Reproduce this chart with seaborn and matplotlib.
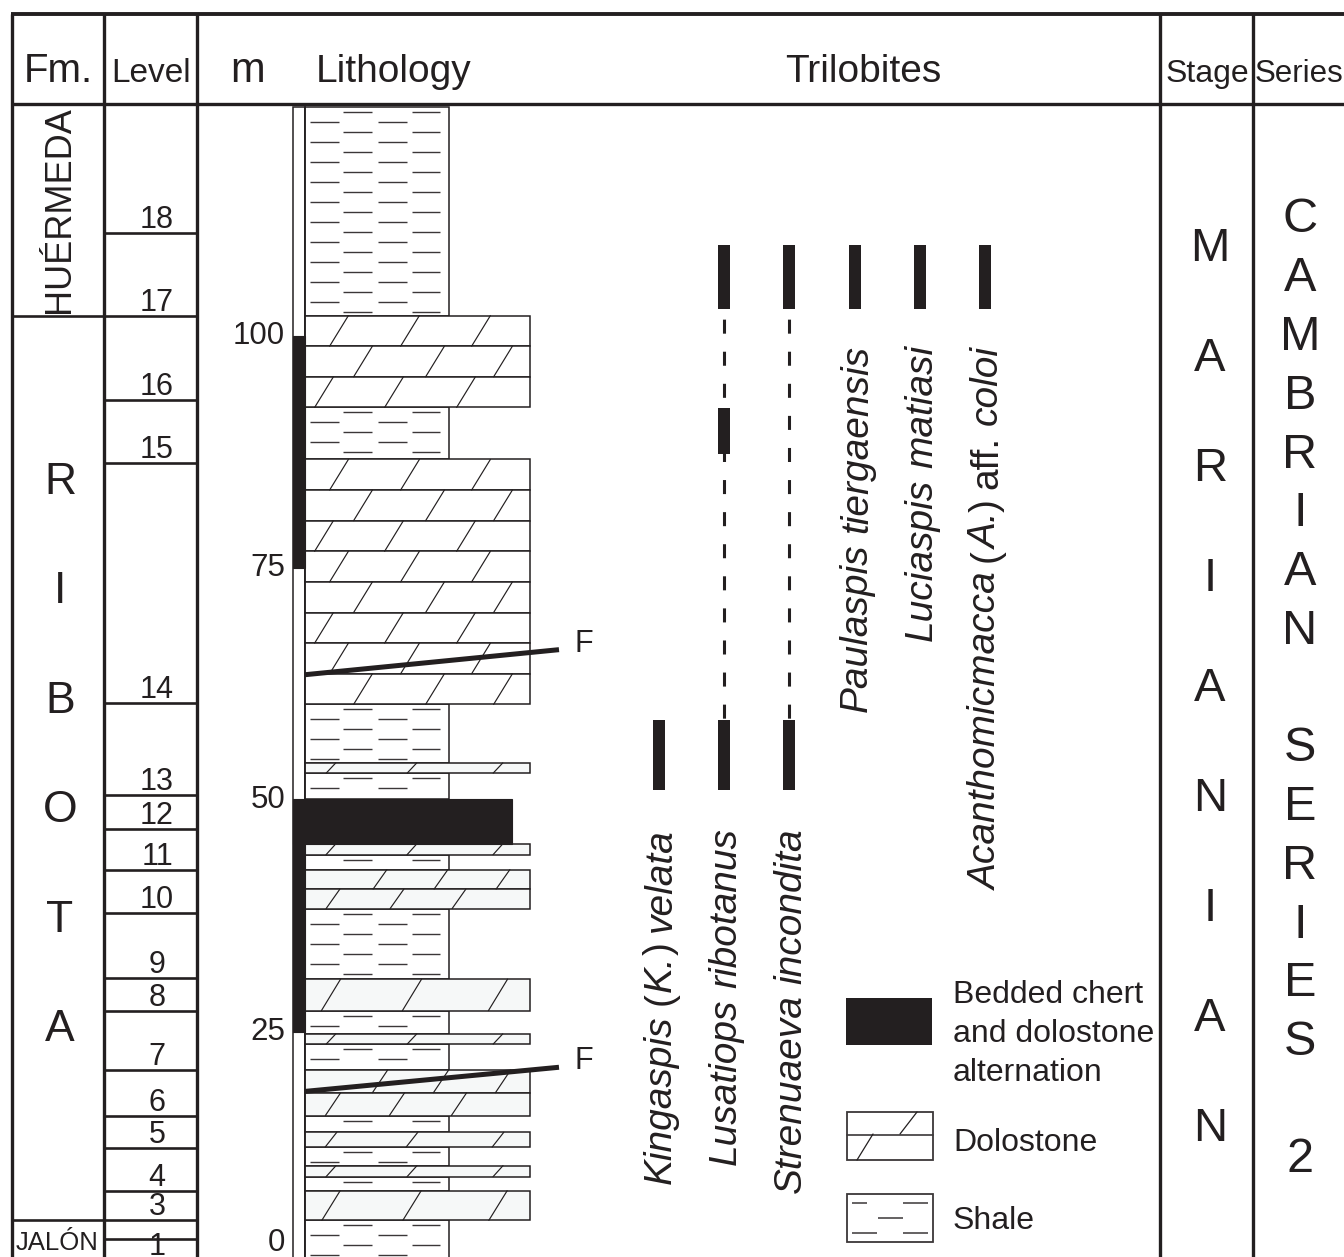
import matplotlib
matplotlib.use("Agg")
import matplotlib.pyplot as plt
from matplotlib.patches import Rectangle
from matplotlib.font_manager import FontProperties
import seaborn as sns

# ---------------------------------------------------------------- data (metres)
depth_ticks = [0, 25, 50, 75, 100]

level_names = ["1", "2", "3", "4", "5", "6", "7", "8", "9", "10",
               "11", "12", "13", "14", "15", "16", "17", "18"]
level_labelled = [True, False] + [True] * 16
level_base = [-0.2, 2.7, 4.7, 7.9, 12.5, 16.0, 20.9, 27.3, 30.8, 37.8,
              42.5, 46.9, 50.5, 60.4, 86.3, 93.1, 102.2, 111.1]
section_top = 125.1
section_base = -1.0

fm_names = ["JALÓN", "RIBOTA", "HUÉRMEDA"]
fm_base = [-0.2, 4.7, 102.2]

litho_kind = ["shale", "dolostone", "shale", "dolostone", "shale", "dolostone",
              "shale", "chert", "dolostone", "shale", "dolostone", "shale",
              "dolostone", "shale", "dolostone", "shale", "dolostone", "shale",
              "dolostone", "shale", "dolostone", "shale", "dolostone", "shale"]
litho_top = [124.7, 102.2, 92.3, 86.7, 60.3, 54.0, 52.9, 50.1, 45.3, 44.1,
             42.5, 38.3, 30.7, 27.3, 24.8, 23.7, 20.9, 16.0, 14.2, 12.6,
             10.6, 9.4, 7.9, 4.7]
litho_beds = [1, 3, 1, 8, 1, 1, 1, 1, 1, 1, 2, 1, 1, 1, 1, 1, 2, 1, 1, 1, 1, 1, 1, 1]

chert_top = [100.0, 50.0]
chert_base = [75.0, 25.0]

fault_left = [63.5, 18.6]
fault_right = [66.2, 21.2]

species = ["*Kingaspis* (*K.*) *velata*", "*Lusatiops ribotanus*",
           "*Strenuaeva incondita*", "*Paulaspis tiergaensis*",
           "*Luciaspis matiasi*", "*Acanthomicmacca* (*A.*) aff. *coloi*"]
range_species = [0, 1, 2, 1, 2, 3, 4, 5, 1]
range_base = [51.1, 51.1, 51.1, 102.9, 102.9, 102.9, 102.9, 102.9, 87.3]
range_top = [58.6, 58.6, 58.6, 109.8, 109.8, 109.8, 109.8, 109.8, 92.2]
dashed_species = [1, 2]
dashed_base = [58.6, 58.6]
dashed_top = [102.9, 102.9]

stage_name = "MARIANIAN"
series_name = "CAMBRIAN SERIES 2"
header_labels = ["Fm.", "Level", "m", "Lithology", "Trilobites", "Stage", "Series"]
legend_labels = ["Bedded chert", "and dolostone", "alternation", "Dolostone", "Shale"]

# ---------------------------------------------------------------- style
sns.set_theme(style="white")
plt.rcParams["font.family"] = ["Liberation Sans", "DejaVu Sans"]
plt.rcParams["lines.scale_dashes"] = False

INK = "#231f20"
FIG_W, FIG_H = 1344, 1257
PPM = 9.28          # pixels per metre on the page
ZERO_PX = 1264      # pixel row of the 0 m level


def ym(px):
    return (ZERO_PX - px) / PPM


def py(m):
    return ZERO_PX - m * PPM


fig = plt.figure(figsize=(FIG_W / 100, FIG_H / 100), dpi=100)
ax = fig.add_axes([0, 0, 1, 1])
ax.set_xlim(0, FIG_W)
ax.set_ylim(ym(FIG_H), ym(0))
ax.axis("off")

# ---------------------------------------------------------------- table frame
COL_X = [12, 104, 197, 1160, 1253]
TOP_PX, HEAD_PX = 14, 104
for x in COL_X:
    ax.plot([x, x], [ym(TOP_PX), ym(FIG_H)], color=INK, lw=2.4,
            solid_capstyle="butt", zorder=10)
ax.plot([COL_X[0] - 1.5, FIG_W], [ym(TOP_PX)] * 2, color=INK, lw=2.8,
        solid_capstyle="butt", zorder=10)
ax.plot([COL_X[0], FIG_W], [ym(HEAD_PX)] * 2, color=INK, lw=2.4,
        solid_capstyle="butt", zorder=10)

head_x = [58, 151, 248, 316, 863, 1207, 1299]
head_size = [29, 24, 30, 28, 28, 23, 22.5]
head_ha = ["center", "center", "center", "left", "center", "center", "center"]
for lab, x, s, ha in zip(header_labels, head_x, head_size, head_ha):
    ax.text(x, ym(82), lab, fontsize=s, ha=ha, va="baseline", color=INK)

# ---------------------------------------------------------------- formations
fm_top = fm_base[1:] + [section_top]
for b in fm_base[1:]:
    ax.plot([COL_X[0], COL_X[1]], [b, b], color=INK, lw=1.9, solid_capstyle="butt")
ax.text(57, (fm_base[0] + fm_top[0]) / 2, fm_names[0], fontsize=18.5,
        ha="center", va="center", color=INK)
mid_px = (py(fm_base[1]) + py(fm_top[1])) / 2 - 12
letters = fm_names[1]
for i, ch in enumerate(letters):
    ax.text(60, ym(mid_px + (i - (len(letters) - 1) / 2) * 109.5), ch,
            fontsize=32, ha="center", va="center", color=INK)
ax.text(59, (fm_base[2] + fm_top[2]) / 2, fm_names[2], fontsize=26, rotation=90,
        ha="center", va="center", color=INK)

# ---------------------------------------------------------------- levels
for name, show, b in zip(level_names, level_labelled, level_base):
    ax.plot([COL_X[1], COL_X[2]], [b, b], color=INK, lw=1.9, solid_capstyle="butt")
    if show:
        # keep the lowest label inside the page
        yb = max(b + 5 / PPM, ym(FIG_H - 2))
        ax.text(157, yb, name, fontsize=22, ha="center",
                va="baseline", color=INK)

# ---------------------------------------------------------------- depth scale
for t in depth_ticks:
    ax.text(285, max(t, 2.3), str(t), fontsize=22.5, ha="right",
            va="center", color=INK)

# ---------------------------------------------------------------- lithology
STRIP_X0, LITHO_X0 = 293, 305
RIGHT = {"shale": 449, "dolostone": 530, "chert": 512}
SLASH_ROWS = {3: [[339, 410, 481], [363, 435, 503], [324, 394, 466]],
              2: [[380, 441, 503], [333, 397, 459]],
              1: [[331, 412, 498]]}
DASH_SETS = [[(343, 372), (412, 440)], [(310, 339), (378, 407)]]

ax.add_patch(Rectangle((STRIP_X0, section_base), LITHO_X0 - STRIP_X0,
                       litho_top[0] - section_base, fc="white", ec=INK,
                       lw=1.1, zorder=2))
for t, b in zip(chert_top, chert_base):
    ax.add_patch(Rectangle((STRIP_X0, b), LITHO_X0 - STRIP_X0, t - b,
                           fc=INK, ec=INK, lw=0.8, zorder=4))

litho_base = litho_top[1:] + [section_base]
for kind, top, base, nsub in zip(litho_kind, litho_top, litho_base, litho_beds):
    if kind == "shale":
        ax.add_patch(Rectangle((LITHO_X0, base), RIGHT[kind] - LITHO_X0, top - base,
                               fc="white", ec=INK, lw=1.1, zorder=2))
        ypx, k = py(top) + 5, 0
        while ypx < py(base) - 3:
            for a, bb in DASH_SETS[k % 2]:
                ax.plot([a, bb], [ym(ypx)] * 2, color="#3b3738", lw=1.0,
                        solid_capstyle="butt", zorder=2.2)
            ypx += 10
            k += 1
    elif kind == "dolostone":
        fc = "#f6f8f8" if top < 60 else "white"
        h = (top - base) / nsub
        rows = SLASH_ROWS[min(nsub, 3)]
        hp = h * PPM
        dx = 5 + 0.45 * hp
        for j in range(nsub):
            tt = top - j * h
            bb = tt - h
            ax.add_patch(Rectangle((LITHO_X0, bb), RIGHT[kind] - LITHO_X0, h,
                                   fc=fc, ec=INK, lw=1.1, zorder=3))
            for c in rows[j % len(rows)]:
                ax.plot([c - dx / 2, c + dx / 2], [bb, tt], color=INK, lw=0.85,
                        zorder=3.2)
    else:
        ax.add_patch(Rectangle((STRIP_X0, base), RIGHT[kind] - STRIP_X0, top - base,
                               fc=INK, ec=INK, lw=0.8, zorder=4))

ax.plot([LITHO_X0, LITHO_X0], [section_base, litho_top[0]], color=INK, lw=1.1, zorder=3.5)

# faults
for l, r in zip(fault_left, fault_right):
    ax.plot([LITHO_X0, 559], [l, r], color=INK, lw=3.6, solid_capstyle="butt", zorder=6)
    ax.text(584, r + 6 / PPM, "F", fontsize=22, ha="center", va="center", color=INK)

# ---------------------------------------------------------------- trilobite ranges
SP_X = [659, 724, 789, 855, 920, 985]
ax.bar([SP_X[i] for i in range_species],
       [t - b for t, b in zip(range_top, range_base)],
       bottom=range_base, width=12, color=INK, edgecolor="none", zorder=5)
for i, b, t in zip(dashed_species, dashed_base, dashed_top):
    ax.plot([SP_X[i], SP_X[i]], [t, b], color=INK, lw=2.2,
            linestyle=(15.8, (10.1, 13.0)), zorder=4.5)

renderer = fig.canvas.get_renderer()


def text_w(s, italic, size):
    fp = FontProperties(family=plt.rcParams["font.family"], size=size,
                        style="italic" if italic else "normal")
    w1 = renderer.get_text_width_height_descent("|" + s + "|", fp, ismath=False)[0]
    w0 = renderer.get_text_width_height_descent("||", fp, ismath=False)[0]
    return w1 - w0


def rich_vertical(x_base, top_px, markup, size):
    toks = []
    for n, part in enumerate(markup.split("*")):
        italic = n % 2 == 1
        words = part.split(" ")
        for k, w in enumerate(words):
            if k > 0:
                toks.append((" ", False))
            if w:
                toks.append((w, italic))
    widths = [text_w(s, it, size) for s, it in toks]
    y = top_px + sum(widths)
    for (s, it), w in zip(toks, widths):
        if s.strip():
            ax.text(x_base, ym(y), s, rotation=90, rotation_mode="anchor",
                    ha="left", va="baseline", fontsize=size,
                    style="italic" if it else "normal", color=INK)
        y -= w


label_top = [828, 828, 828, 345, 345, 345]
for name, x, tp in zip(species, SP_X, label_top):
    rich_vertical(x + 12, tp, name, 28)

# ---------------------------------------------------------------- stage / series
for i, ch in enumerate(stage_name):
    ax.text(1210, ym(689 + (i - (len(stage_name) - 1) / 2) * 109.9), ch,
            fontsize=34, ha="center", va="center", color=INK)
for i, ch in enumerate(series_name):
    if ch != " ":
        ax.text(1300, ym(690 + (i - (len(series_name) - 1) / 2) * 58.75), ch,
                fontsize=35, ha="center", va="center", color=INK)

# ---------------------------------------------------------------- legend
ax.add_patch(Rectangle((846, ym(1045)), 86, 47 / PPM, fc=INK, ec="none", zorder=5))
ax.add_patch(Rectangle((847, ym(1160)), 86, 48 / PPM, fc="white", ec="#3b3738",
                       lw=1.3, zorder=5))
ax.plot([847, 933], [ym(1135)] * 2, color="#3b3738", lw=1.2, zorder=5.1)
ax.plot([900, 917], [ym(1134), ym(1112)], color=INK, lw=0.9, zorder=5.1)
ax.plot([857, 873], [ym(1160), ym(1134)], color=INK, lw=0.9, zorder=5.1)
ax.add_patch(Rectangle((847, ym(1242)), 86, 48 / PPM, fc="white", ec="#3b3738",
                       lw=1.3, zorder=5))
for (a, b), yy in [((852, 867), 1203), ((903, 928), 1203), ((878, 903), 1218),
                   ((852, 877), 1233), ((903, 928), 1233)]:
    ax.plot([a, b], [ym(yy)] * 2, color="#3b3738", lw=1.1, solid_capstyle="butt",
            zorder=5.1)
for lab, yy in zip(legend_labels, [1003, 1042, 1081, 1151, 1229]):
    ax.text(953, ym(yy), lab, fontsize=23, ha="left", va="baseline", color=INK)

fig.savefig("out.png", dpi=100, facecolor="white")
